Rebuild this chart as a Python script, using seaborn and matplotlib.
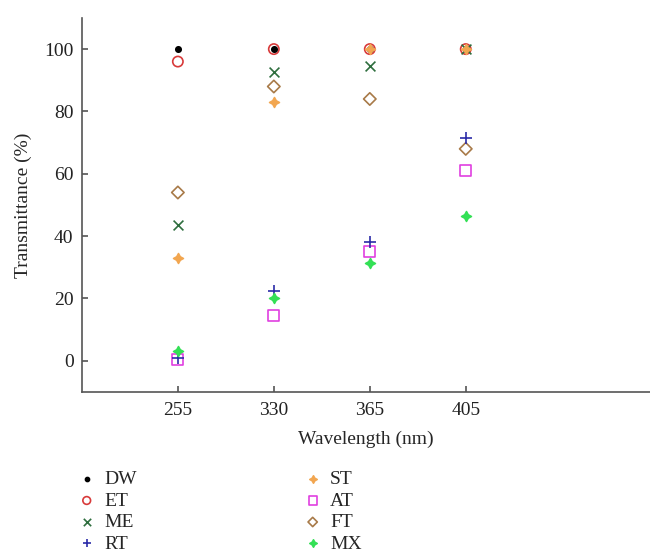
import matplotlib
matplotlib.use("Agg")
import matplotlib.pyplot as plt
import pandas as pd
import seaborn as sns

# wavelengths (categories) and transmittance values per sample
wavelengths = ["255", "330", "365", "405"]
DW = [100, 100, 100, 100]
ET = [96, 100, 100, 100]
ME = [43.5, 92.5, 94.5, 100]
RT = [1, 22.5, 38, 71.5]
ST = [33, 83, 100, 100]
AT = [0.5, 14.5, 35, 61]
FT = [54, 88, 84, 68]
MX = [3, 20, 31.5, 46.5]

series = {"DW": DW, "ET": ET, "ME": ME, "RT": RT, "ST": ST, "AT": AT, "FT": FT, "MX": MX}

# marker, colour, hollow?, size
styles = {
    "DW": (".", "black", False, 60),
    "ET": ("o", "#d83a3a", True, 55),
    "ME": ("x", "#2e6e3e", False, 50),
    "RT": ("+", "#2b2ba8", False, 70),
    "ST": ((4, 1, 0), "#f2a650", False, 50),
    "AT": ("s", "#e040e0", True, 60),
    "FT": ("D", "#a87a48", True, 40),
    "MX": ((4, 1, 0), "#33e055", False, 50),
}

rows = []
for name, vals in series.items():
    for w, v in zip(wavelengths, vals):
        rows.append({"sample": name, "wavelength": w, "T": v})
df = pd.DataFrame(rows)

sns.set_style("white")
plt.rcParams["font.family"] = ["Liberation Serif", "DejaVu Serif"]

fig = plt.figure(figsize=(6.5, 5.6), dpi=100)
ax = fig.add_axes([0.126, 0.3, 0.874, 0.668])

draw_order = ["ET", "DW", "ME", "FT", "AT", "RT", "MX", "ST"]
for name in draw_order:
    m, c, hollow, s = styles[name]
    sub = df[df["sample"] == name]
    if hollow:
        sns.scatterplot(data=sub, x="wavelength", y="T", ax=ax, marker=m, s=s,
                        facecolor="none", edgecolor=c, linewidth=1.2, label=name)
    else:
        sns.scatterplot(data=sub, x="wavelength", y="T", ax=ax, marker=m, s=s,
                        color=c, edgecolor=c, linewidth=1.2, label=name)

ax.set_xlim(-1, 4.92)
ax.set_ylim(-10, 110)
ax.set_yticks([0, 20, 40, 60, 80, 100])
ax.set_xlabel("Wavelength (nm)", fontsize=14, labelpad=8.5)
ax.set_ylabel("Transmittance (%)", fontsize=14, labelpad=9)
ax.tick_params(axis="both", labelsize=14, labelcolor="#222222", direction="in",
               length=4, width=1.2, color="#555555", bottom=True, left=True)
ax.tick_params(axis="x", pad=7)
ax.tick_params(axis="y", pad=6)
sns.despine(ax=ax)
for sp in ["left", "bottom"]:
    ax.spines[sp].set_color("#555555")
    ax.spines[sp].set_linewidth(1.2)

handles, labels = ax.get_legend_handles_labels()
order = ["DW", "ET", "ME", "RT", "ST", "AT", "FT", "MX"]
hmap = dict(zip(labels, handles))
ax.legend([hmap[k] for k in order], order, ncol=2, frameon=False,
          loc="upper left", bbox_to_anchor=(-0.048, -0.163),
          fontsize=14, handletextpad=0.15, columnspacing=8.3,
          labelspacing=0.2, handlelength=1.5, markerscale=0.75)

fig.savefig("out.png", dpi=100)
